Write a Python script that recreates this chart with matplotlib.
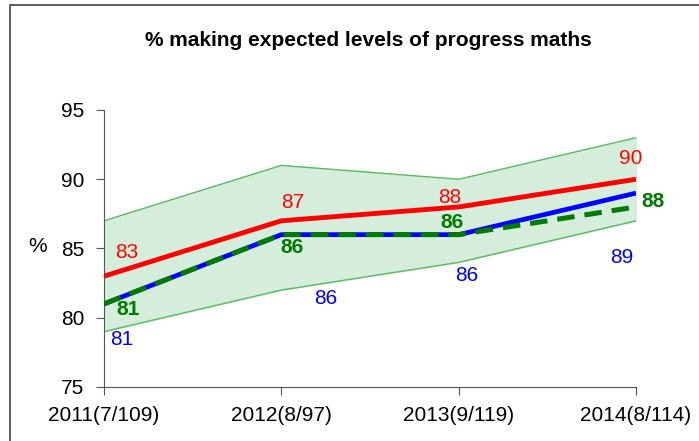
import numpy as np
import matplotlib
matplotlib.use("Agg")
import matplotlib.pyplot as plt
from matplotlib.patches import Rectangle

plt.rcParams['font.family'] = ['Liberation Sans', 'DejaVu Sans']

# Données
years = ["2011(7/109)", "2012(8/97)", "2013(9/119)", "2014(8/114)"]
upper = [87, 91, 90, 93]
lower = [79, 82, 84, 87]
school = [83, 87, 88, 90]
national = [81, 86, 86, 89]
similar = [81, 86, 86, 88]

# décalages des étiquettes (pixels)
off_red = [(23, 24), (11, 18), (-9, 9), (-5, 21)]
off_blue = [(18, -36), (44, -64), (8, -41), (-14, -64)]
off_green = [(24, -6), (11, -13), (-7, 12), (17, 5)]

x = np.arange(len(years))

fig = plt.figure(figsize=(6.99, 4.41), dpi=100)
ax = fig.add_axes([104/699, 1-387/441, (636-104)/699, (387-110)/441])

# Bande
ax.fill_between(x, lower, upper, color='#d4eedb', zorder=1)
ax.plot(x, upper, color='#5cb860', lw=1, zorder=2)
ax.plot(x, lower, color='#5cb860', lw=1, zorder=2)

# Courbes
ax.plot(x, school, color='#ff0000', lw=3.5, zorder=4, solid_capstyle='butt')
ax.plot(x, national, color='#0000ff', lw=3.4, zorder=3, solid_capstyle='butt')
ax.plot(x, similar, color='#007a00', lw=3.6, ls=(0, (3.5, 2)), zorder=5)

# Étiquettes
fs = 15
for i in range(len(x)):
    ax.annotate(str(school[i]), (x[i], school[i]), xytext=off_red[i],
                textcoords='offset pixels', ha='center', va='center',
                color='#ff0000', fontsize=fs, zorder=6)
    ax.annotate(str(national[i]), (x[i], national[i]), xytext=off_blue[i],
                textcoords='offset pixels', ha='center', va='center',
                color='#0000ff', fontsize=fs, zorder=6)
    ax.annotate(str(similar[i]), (x[i], similar[i]), xytext=off_green[i],
                textcoords='offset pixels', ha='center', va='center',
                color='#007a00', fontsize=fs, fontweight='bold', zorder=6)

ax.set_xlim(0, 3)
ax.set_ylim(75, 95)
ax.set_yticks([75, 80, 85, 90, 95])
ax.set_xticks(x)
ax.set_xticklabels(years)
ax.tick_params(labelsize=fs, direction='out', length=6, color='#555555')
ax.tick_params(axis='y', pad=8)
ax.tick_params(axis='x', pad=8)
ax.spines['top'].set_visible(False)
ax.spines['right'].set_visible(False)
ax.spines['left'].set_color('#555555')
ax.spines['bottom'].set_color('#555555')

fig.text(38/699, 1-247/441, "%", fontsize=fs, ha='center', va='center')
fig.text(368/699, 1-40/441, "% making expected levels of progress maths",
         fontsize=15, fontweight='bold', ha='center', va='center')

# cadre
fig.patches.append(Rectangle((10/699, -0.2), 1.2, 1.2 - 5/441,
                             transform=fig.transFigure, fill=False,
                             edgecolor='#444444', lw=1.2))

fig.savefig("out.png", dpi=100)
